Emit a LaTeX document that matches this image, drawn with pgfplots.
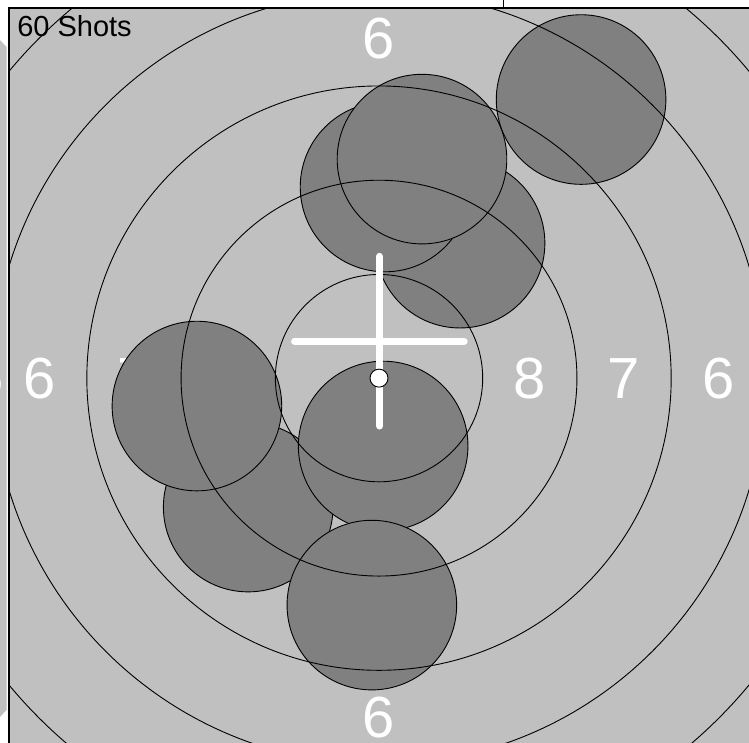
\documentclass[border=0pt]{standalone}
\usepackage{pgfplots}
\pgfplotsset{compat=1.18}
\usepackage{pgfplotstable}
\usepackage{fontspec}
\setmainfont{Liberation Sans}
\definecolor{bg}{RGB}{192,192,192}
\definecolor{shot}{RGB}{128,128,128}
\pgfplotstableread{
x y
-3.47 -3.42
-4.83 -0.74
2.15 3.58
0.16 5.07
1.14 5.81
0.11 -1.80
-0.19 -6.02
5.36 7.39
}\shots
\begin{document}
\begin{tikzpicture}[x=1pt,y=1pt]
\path[use as bounding box] (0,0) rectangle (749,-743);
\clip (0,0) rectangle (749,-743);
\fill[white] (0,0) rectangle (749,-743);
\fill[bg] (0,-40) -- (6.5,-47) -- (6.5,-710) -- (0,-717) -- cycle;
\begin{scope}
\clip (0,0) rectangle (6.4,-743);
\node[white, font=\fontsize{58}{60}\selectfont, inner sep=0] at (-12,-378) {5};
\end{scope}
\draw[black, line width=1pt] (503.5,0) -- (503.5,-9);
\begin{axis}[at={(8.8pt,-8.3pt)}, anchor=north west, x=37.7pt, y=37.7pt,
  xmin=-9.82, xmax=9.95, ymin=-9.95, ymax=9.81,
  axis background/.style={fill=bg}, xtick=\empty, ytick=\empty,
  axis line style={line width=1.6pt}, clip marker paths=true]
% ring numbers
\node[white, inner sep=0, font=\fontsize{58}{60}\selectfont] at (axis cs:4.0,0) {8};
\node[white, inner sep=0, font=\fontsize{58}{60}\selectfont] at (axis cs:6.5,0) {7};
\node[white, inner sep=0, font=\fontsize{58}{60}\selectfont] at (axis cs:9.0,0) {6};
\node[white, inner sep=0, font=\fontsize{58}{60}\selectfont] at (axis cs:-4.0,0) {8};
\node[white, inner sep=0, font=\fontsize{58}{60}\selectfont] at (axis cs:-6.5,0) {7};
\node[white, inner sep=0, font=\fontsize{58}{60}\selectfont] at (axis cs:-9.0,0) {6};
\node[white, inner sep=0, font=\fontsize{58}{60}\selectfont] at (axis cs:0,4.0) {8};
\node[white, inner sep=0, font=\fontsize{58}{60}\selectfont] at (axis cs:0,6.5) {7};
\node[white, inner sep=0, font=\fontsize{58}{60}\selectfont] at (axis cs:0,9.0) {6};
\node[white, inner sep=0, font=\fontsize{58}{60}\selectfont] at (axis cs:0,-4.0) {8};
\node[white, inner sep=0, font=\fontsize{58}{60}\selectfont] at (axis cs:0,-6.5) {7};
\node[white, inner sep=0, font=\fontsize{58}{60}\selectfont] at (axis cs:0,-9.0) {6};
% shots (fill and outline, in order)
\addplot[only marks, mark=*, mark size=84.8pt, black, mark options={fill=shot, draw=black, line width=0.9pt}] table {\shots};
% rings
\draw[line width=0.9pt] (axis cs:0,0) circle[radius=2.75];
\draw[line width=0.9pt] (axis cs:0,0) circle[radius=5.25];
\draw[line width=0.9pt] (axis cs:0,0) circle[radius=7.75];
\draw[line width=0.9pt] (axis cs:0,0) circle[radius=10.25];
\draw[line width=0.9pt] (axis cs:0,0) circle[radius=12.75];
% mean point cross
\addplot[white, line width=7pt, line cap=round] coordinates {(-2.24,0.98) (2.26,0.98)};
\addplot[white, line width=7pt, line cap=round] coordinates {(0.013,-1.27) (0.013,3.23)};
% centre dot
\addplot[only marks, mark=*, mark size=9pt, black, mark options={fill=white, draw=black, line width=0.9pt}] coordinates {(0,0)};
\node[anchor=north west, inner sep=0, font=\fontsize{29}{30}\selectfont, xshift=8.3pt, yshift=-6.7pt] at (rel axis cs:0,1) {60 Shots};
\end{axis}
\end{tikzpicture}
\end{document}
